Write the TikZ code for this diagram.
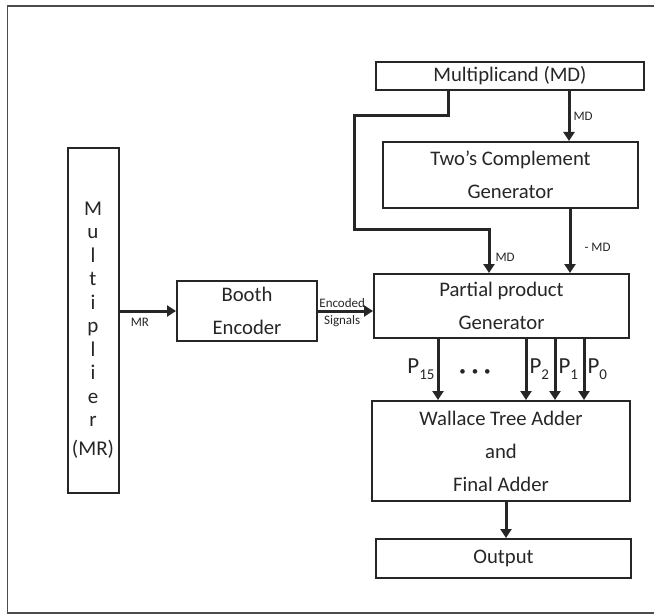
\documentclass[tikz,border=0pt]{standalone}
\usepackage{fontspec}
\setmainfont{Carlito}
\usetikzlibrary{arrows.meta,positioning}

\newcommand{\psub}[1]{P\raisebox{-6pt}{\fontsize{15}{15}\selectfont #1}}

\begin{document}
\begin{tikzpicture}[
    x=1pt, y=-1pt,
    every node/.style={font=\fontsize{20.7}{33}\selectfont, text=black!85},
    block/.style={rectangle, draw=black!85, line width=2pt, inner sep=0pt, align=center},
    arr/.style={-{Triangle[width=11pt,length=9pt]}, line width=3pt, black!85},
    sig/.style={font=\fontsize{13}{21}\selectfont, inner sep=1pt},
    plab/.style={inner sep=2pt, font=\fontsize{23}{23}\selectfont},
    frame/.style={draw=black!70, line width=1.4pt}
  ]
    \useasboundingbox (0,0) rectangle (654,615);

    % outer frame (right side cut off)
    \draw[frame] (654,6) -- (7.5,6) -- (7.5,613) -- (654,613);

    % Blocks
    \node[block, minimum width=268, minimum height=28] (md) at (510,76) {Multiplicand (MD)};
    \node[block, minimum width=255, minimum height=66] (twos) at (510.5,175) {Two's Complement\\Generator};
    \node[block, minimum width=255, minimum height=64] (ppg) at (501.5,306) {Partial product\\Generator};
    \node[block, minimum width=140, minimum height=60] (booth) at (247,311) {Booth\\Encoder};
    \node[block, minimum width=51, minimum height=345] (mult) at (93,320.5) {};
    \node[align=center, font=\fontsize{21}{23.5}\selectfont] (multlabel) at (93,330)
      {M\\u\\l\\t\\i\\p\\l\\i\\e\\r\\[5pt](MR)};
    \node[block, minimum width=258, minimum height=100] (wallace) at (501,451) {Wallace Tree Adder\\and\\Final Adder};
    \node[block, minimum width=255, minimum height=39] (output) at (503.5,558.5) {Output};

    % MR and encoded signals
    \draw[arr] (booth.west -| mult.east) -- (booth.west)
      node[pos=0.36, below, sig, yshift=-5pt] {MR};
    \draw[arr] (booth.east) -- (booth.east -| ppg.west)
      node[pos=0.44, above, sig, yshift=1pt] {Encoded}
      node[pos=0.44, below, sig, yshift=-2pt] {Signals};

    % Multiplicand paths
    \draw[arr] ([xshift=59pt]md.south) -- ([xshift=59pt]md.south |- twos.north)
      node[midway, right, sig, xshift=2pt] {MD};
    \coordinate (mdleft) at (354,230);
    \draw[arr] ([xshift=-62pt]md.south) -- ++(0,25) -| (mdleft) -| ([xshift=-12.5pt]ppg.north)
      node[pos=0.82, right, sig, xshift=4pt] {MD};
    \draw[arr] ([xshift=59.5pt]twos.south) -- ([xshift=59.5pt]twos.south |- ppg.north)
      node[pos=0.6, right, sig, xshift=12pt] {- MD};

    % Partial products
    \draw[arr] ([xshift=-63.5pt]ppg.south) -- ([xshift=-63.5pt]ppg.south |- wallace.north)
      node[midway, left, plab] {\psub{15}};
    \node[font=\fontsize{13}{13}\selectfont] (dots) at (475,373) {\textbullet\hspace{6pt}\textbullet\hspace{6pt}\textbullet};
    \draw[arr] ([xshift=24.5pt]ppg.south) -- ([xshift=24.5pt]ppg.south |- wallace.north)
      node[midway, right, plab] {\psub{2}};
    \draw[arr] ([xshift=53.5pt]ppg.south) -- ([xshift=53.5pt]ppg.south |- wallace.north)
      node[midway, right, plab] {\psub{1}};
    \draw[arr] ([xshift=82.5pt]ppg.south) -- ([xshift=82.5pt]ppg.south |- wallace.north)
      node[midway, right, plab] {\psub{0}};

    % Final output
    \draw[arr] ([xshift=5pt]wallace.south) -- ([xshift=5pt]wallace.south |- output.north);

  \end{tikzpicture}
\end{document}
